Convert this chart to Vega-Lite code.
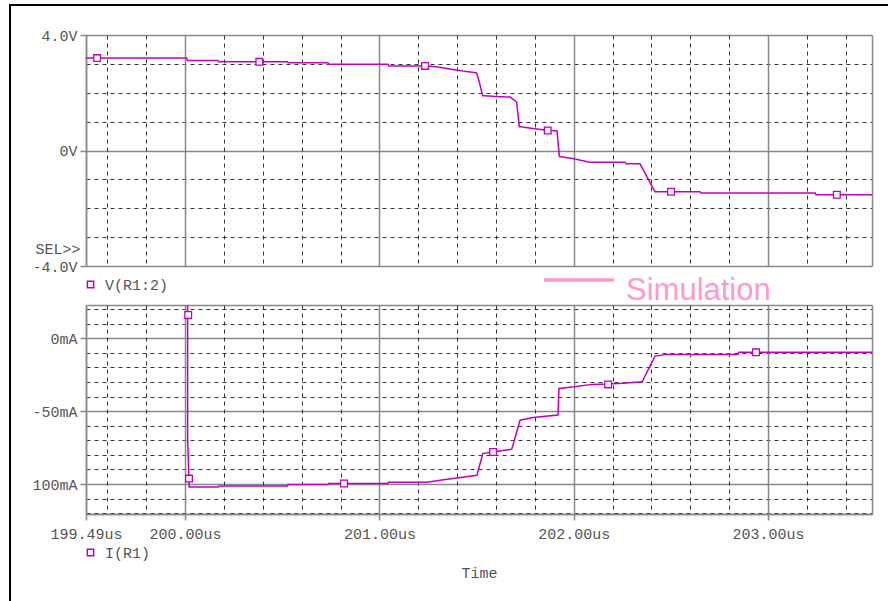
{
  "$schema": "https://vega.github.io/schema/vega-lite/v6.json",
  "width": 886,
  "height": 598,
  "autosize": {"type": "none"},
  "padding": {"left": 10, "top": 5, "right": -8, "bottom": -2},
  "background": "white",
  "config": {
    "view": {"stroke": "black", "strokeWidth": 2, "fill": "white"},
    "axis": {
      "labelFont": "Liberation Mono", "labelFontSize": 15, "labelColor": "#555",
      "titleFont": "Liberation Mono", "titleFontSize": 15, "titleColor": "#555", "titleFontWeight": "normal",
      "domainColor": "#888", "tickColor": "#888", "domainWidth": 1.5, "tickWidth": 1.5,
      "gridOpacity": 1, "labelOverlap": false, "labelBound": false, "labelFlush": false
    },
    "legend": {"labelFont": "Liberation Mono", "labelFontSize": 15, "labelColor": "#555"}
  },
  "datasets": {
    "v": [
      {"t": 199.49, "v": 3.20}, {"t": 200.008, "v": 3.20}, {"t": 200.012, "v": 3.12}, {"t": 200.169, "v": 3.12},
      {"t": 200.173, "v": 3.07}, {"t": 200.526, "v": 3.07}, {"t": 200.530, "v": 3.04}, {"t": 200.735, "v": 3.04},
      {"t": 200.739, "v": 2.99}, {"t": 201.044, "v": 2.99}, {"t": 201.048, "v": 2.93}, {"t": 201.235, "v": 2.93},
      {"t": 201.296, "v": 2.90}, {"t": 201.399, "v": 2.78}, {"t": 201.500, "v": 2.69}, {"t": 201.515, "v": 2.35},
      {"t": 201.531, "v": 1.90}, {"t": 201.600, "v": 1.87}, {"t": 201.672, "v": 1.85}, {"t": 201.706, "v": 1.68},
      {"t": 201.720, "v": 0.83}, {"t": 201.791, "v": 0.76}, {"t": 201.863, "v": 0.70}, {"t": 201.914, "v": 0.68},
      {"t": 201.926, "v": -0.21}, {"t": 201.996, "v": -0.28}, {"t": 202.084, "v": -0.41}, {"t": 202.264, "v": -0.41},
      {"t": 202.270, "v": -0.46}, {"t": 202.341, "v": -0.46}, {"t": 202.418, "v": -1.43}, {"t": 202.650, "v": -1.43},
      {"t": 202.655, "v": -1.47}, {"t": 203.242, "v": -1.47}, {"t": 203.247, "v": -1.53}, {"t": 203.535, "v": -1.53}
    ],
    "vm": [
      {"t": 199.547, "v": 3.20}, {"t": 200.382, "v": 3.07}, {"t": 201.235, "v": 2.93},
      {"t": 201.866, "v": 0.69}, {"t": 202.501, "v": -1.43}, {"t": 203.354, "v": -1.53}
    ],
    "i": [
      {"t": 200.013, "i": 22.9}, {"t": 200.013, "i": -68}, {"t": 200.021, "i": -102.1}, {"t": 200.171, "i": -102.1},
      {"t": 200.174, "i": -101.4}, {"t": 200.527, "i": -101.4}, {"t": 200.530, "i": -100.4}, {"t": 200.735, "i": -100.4},
      {"t": 200.738, "i": -99.7}, {"t": 201.044, "i": -99.7}, {"t": 201.047, "i": -98.8}, {"t": 201.245, "i": -98.8},
      {"t": 201.312, "i": -97.5}, {"t": 201.399, "i": -95.9}, {"t": 201.502, "i": -94.0}, {"t": 201.532, "i": -79.1},
      {"t": 201.585, "i": -78.0}, {"t": 201.681, "i": -76.1}, {"t": 201.724, "i": -56.2}, {"t": 201.791, "i": -54.3},
      {"t": 201.919, "i": -52.7}, {"t": 201.924, "i": -34.4}, {"t": 202.002, "i": -33.3}, {"t": 202.094, "i": -31.6},
      {"t": 202.177, "i": -31.4}, {"t": 202.254, "i": -30.9}, {"t": 202.352, "i": -29.8}, {"t": 202.418, "i": -12.2},
      {"t": 202.480, "i": -11.0}, {"t": 202.845, "i": -11.0}, {"t": 202.850, "i": -9.6}, {"t": 203.535, "i": -9.6}
    ],
    "im": [
      {"t": 200.016, "i": 16.0}, {"t": 200.020, "i": -96.3}, {"t": 200.818, "i": -99.7},
      {"t": 201.585, "i": -78.0}, {"t": 202.177, "i": -31.6}, {"t": 202.938, "i": -9.6}
    ]
  },
  "resolve": {
    "scale": {"y": "independent", "color": "independent"},
    "axis": {"x": "independent", "y": "independent"}
  },
  "layer": [
    {
      "data": {"name": "v"},
      "mark": {"type": "line", "strokeWidth": 1.5},
      "encoding": {
        "x": {
          "field": "t", "type": "quantitative",
          "scale": {"domain": [199.49, 203.535], "range": [76, 862], "nice": false, "zero": false},
          "axis": {
            "orient": "top", "offset": -30, "title": null, "labels": false, "domain": false, "grid": false,
            "ticks": true, "tickSize": -231,
            "values": [199.49, 199.6, 199.8, 200, 200.2, 200.4, 200.6, 200.8, 201, 201.2, 201.4, 201.6, 201.8, 202, 202.2, 202.4, 202.6, 202.8, 203, 203.2, 203.4, 203.535],
            "tickColor": {"condition": {"test": "datum.value % 1 == 0 || datum.value == 199.49 || datum.value == 203.535", "value": "#888"}, "value": "#333"},
            "tickDash": {"condition": {"test": "datum.value % 1 == 0 || datum.value == 199.49 || datum.value == 203.535", "value": []}, "value": [4, 4]},
            "tickWidth": {"condition": {"test": "datum.value % 1 == 0 || datum.value == 199.49 || datum.value == 203.535", "value": 1.5}, "value": 1}
          }
        },
        "y": {
          "field": "v", "type": "quantitative",
          "scale": {"domain": [-4, 4], "range": [261, 30], "nice": false, "zero": false},
          "axis": {
            "orient": "left", "offset": -76, "grid": true, "domain": true,
            "values": [-4, -3, -2, -1, 0, 1, 2, 3, 4],
            "labelExpr": "datum.value == 4 ? '4.0V' : datum.value == -4 ? '-4.0V' : datum.value == 0 ? '0V' : ''",
            "tickSize": 6, "labelPadding": 3,
            "tickOpacity": {"condition": {"test": "datum.value % 4 == 0", "value": 1}, "value": 0},
            "gridColor": {"condition": {"test": "datum.value % 4 == 0", "value": "#888"}, "value": "#333"},
            "gridDash": {"condition": {"test": "datum.value % 4 == 0", "value": []}, "value": [4, 4]},
            "gridWidth": {"condition": {"test": "datum.value % 4 == 0", "value": 1.5}, "value": 1},
            "title": "SEL>>", "titleAngle": 0, "titleAlign": "right", "titleBaseline": "middle",
            "titleX": -6, "titleY": 243.3
          }
        },
        "color": {
          "datum": "V(R1:2)",
          "scale": {"range": ["#c000c0"]},
          "legend": {
            "orient": "none", "legendX": 73, "legendY": 272, "title": null,
            "symbolType": "square", "symbolSize": 40, "symbolStrokeWidth": 1.5, "labelOffset": 7
          }
        },
        "strokeDash": {
          "datum": "Simulation",
          "scale": {"range": [[1, 0]]},
          "legend": {
            "orient": "none", "legendX": 532, "legendY": 248.5, "title": null,
            "symbolType": "M-1,-0.3H1", "symbolSize": 4900, "symbolStrokeColor": "#ff99cc", "symbolStrokeWidth": 3.5,
            "labelFont": "Liberation Sans", "labelFontSize": 31, "labelColor": "#ff99cc", "labelOffset": 10, "labelLimit": 0
          }
        }
      }
    },
    {
      "data": {"name": "vm"},
      "mark": {"type": "point", "shape": "square", "size": 45, "filled": false, "fill": "white", "fillOpacity": 1, "stroke": "#c000c0", "strokeWidth": 1.3, "opacity": 1},
      "encoding": {
        "x": {
          "field": "t", "type": "quantitative",
          "scale": {"domain": [199.49, 203.535], "range": [76, 862], "nice": false, "zero": false},
          "axis": {
            "orient": "top", "offset": -300, "title": null, "labels": false, "domain": false, "grid": false,
            "ticks": true, "tickSize": -209.3,
            "values": [199.49, 199.6, 199.8, 200, 200.2, 200.4, 200.6, 200.8, 201, 201.2, 201.4, 201.6, 201.8, 202, 202.2, 202.4, 202.6, 202.8, 203, 203.2, 203.4, 203.535],
            "tickColor": {"condition": {"test": "datum.value % 1 == 0 || datum.value == 199.49 || datum.value == 203.535", "value": "#888"}, "value": "#333"},
            "tickDash": {"condition": {"test": "datum.value % 1 == 0 || datum.value == 199.49 || datum.value == 203.535", "value": []}, "value": [4, 4]},
            "tickWidth": {"condition": {"test": "datum.value % 1 == 0 || datum.value == 199.49 || datum.value == 203.535", "value": 1.5}, "value": 1}
          }
        },
        "y": {"field": "v", "type": "quantitative", "scale": {"domain": [-4, 4], "range": [261, 30], "nice": false, "zero": false}, "axis": null}
      }
    },
    {
      "data": {"name": "i"},
      "mark": {"type": "line", "strokeWidth": 1.5},
      "encoding": {
        "x": {
          "field": "t", "type": "quantitative",
          "scale": {"domain": [199.49, 203.535], "range": [76, 862], "nice": false, "zero": false},
          "axis": {
            "orient": "bottom", "offset": -89, "grid": false, "domain": true,
            "values": [199.49, 200, 201, 202, 203],
            "labelExpr": "datum.value == 199.49 ? '199.49us' : format(datum.value, '.2f') + 'us'",
            "tickSize": 6, "labelPadding": 6,
            "title": "Time", "titleY": 58, "titleBaseline": "middle"
          }
        },
        "y": {
          "field": "i", "type": "quantitative",
          "scale": {"domain": [-120.8, 22.9], "range": [509.3, 300], "nice": false, "zero": false},
          "axis": {
            "orient": "left", "offset": -76, "grid": true, "domain": true, "title": null,
            "values": [-120.8, -120, -110, -100, -90, -80, -70, -60, -50, -40, -30, -20, -10, 0, 10, 20, 22.9],
            "labelExpr": "datum.value == -100 ? '100mA' : datum.value == -50 ? '-50mA' : datum.value == 0 ? '0mA' : ''",
            "tickSize": 6, "labelPadding": 3,
            "tickOpacity": {"condition": {"test": "datum.value % 50 == 0", "value": 1}, "value": 0},
            "gridColor": {"condition": {"test": "datum.value % 50 == 0 || datum.value == -120.8 || datum.value == 22.9", "value": "#888"}, "value": "#333"},
            "gridDash": {"condition": {"test": "datum.value % 50 == 0 || datum.value == -120.8 || datum.value == 22.9", "value": []}, "value": [4, 4]},
            "gridWidth": {"condition": {"test": "datum.value % 50 == 0 || datum.value == -120.8 || datum.value == 22.9", "value": 1.5}, "value": 1}
          }
        },
        "color": {
          "datum": "I(R1)",
          "scale": {"range": ["#c000c0"]},
          "legend": {
            "orient": "none", "legendX": 73, "legendY": 540, "title": null,
            "symbolType": "square", "symbolSize": 40, "symbolStrokeWidth": 1.5, "labelOffset": 7
          }
        }
      }
    },
    {
      "data": {"name": "im"},
      "mark": {"type": "point", "shape": "square", "size": 45, "filled": false, "fill": "white", "fillOpacity": 1, "stroke": "#c000c0", "strokeWidth": 1.3, "opacity": 1},
      "encoding": {
        "x": {"field": "t", "type": "quantitative", "scale": {"domain": [199.49, 203.535], "range": [76, 862], "nice": false, "zero": false}, "axis": null},
        "y": {"field": "i", "type": "quantitative", "scale": {"domain": [-120.8, 22.9], "range": [509.3, 300], "nice": false, "zero": false}, "axis": null}
      }
    }
  ]
}
